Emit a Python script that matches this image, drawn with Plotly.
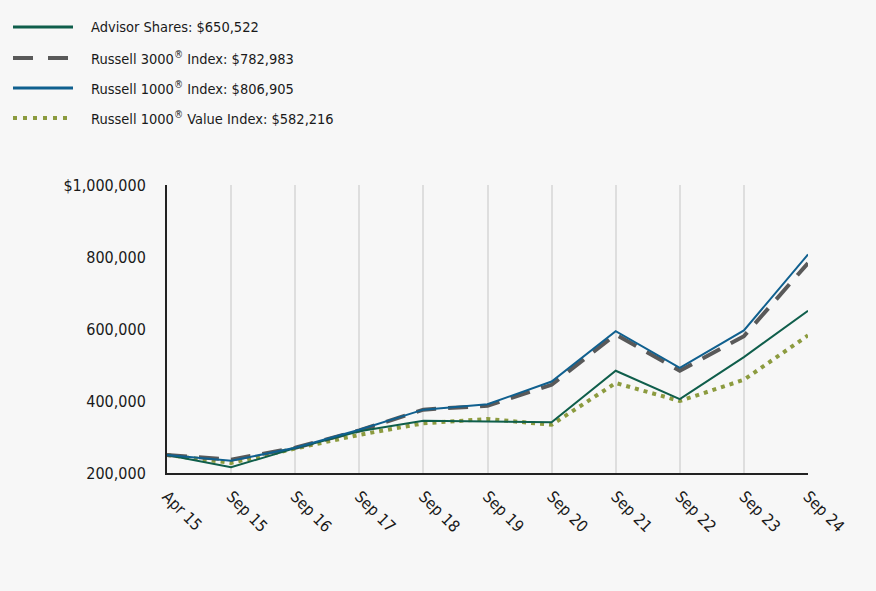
import plotly.graph_objects as go

categories = ["Apr 15", "Sep 15", "Sep 16", "Sep 17", "Sep 18", "Sep 19",
              "Sep 20", "Sep 21", "Sep 22", "Sep 23", "Sep 24"]

advisor = [250000, 216000, 269000, 316000, 345000, 342000, 341000, 484000, 405000, 522000, 650522]
r3000 = [250000, 237000, 270000, 318000, 376000, 387000, 445000, 585000, 484000, 580000, 782983]
r1000 = [250000, 234000, 270000, 320000, 376000, 391000, 454000, 594000, 492000, 596000, 806905]
r1000v = [250000, 228000, 268000, 306000, 338000, 350000, 334000, 450000, 400000, 459000, 582216]

names = ["Advisor Shares: $650,522",
         "Russell 3000<sup>®</sup> Index: $782,983",
         "Russell 1000<sup>®</sup> Index: $806,905",
         "Russell 1000<sup>®</sup> Value Index: $582,216"]

ytickvals = [200000, 400000, 600000, 800000, 1000000]
yticktext = ["200,000", "400,000", "600,000", "800,000", "$1,000,000"]

FONT = "DejaVu Sans Condensed"
colors = ["#0f5e4b", "#595959", "#10608f", "#8c9b3f"]
widths = [2, 4, 2, 4]
dashes = ["solid", "20px,12px", "solid", "4px,5px"]
legend_dashes = ["solid", "20px,15px", "solid", "4px,6px"]
series = [advisor, r3000, r1000, r1000v]
order = [3, 1, 0, 2]  # drawing order

fig = go.Figure()
for i in order:
    fig.add_trace(go.Scatter(x=categories, y=series[i], mode="lines",
                             line=dict(color=colors[i], width=widths[i], dash=dashes[i]),
                             name=names[i], showlegend=False))

W = 641.0
x0 = 167.0
def px(x):
    return (x - x0) / W

H = 288.0
y_bottom = 473.0
def py(y):
    return (y_bottom - y) / H

legend_y = [27, 58, 88, 118]
shapes = []
annotations = []
for i in range(4):
    shapes.append(dict(type="line", xref="paper", yref="paper",
                       x0=px(13), x1=px(73), y0=py(legend_y[i]), y1=py(legend_y[i]),
                       line=dict(color=colors[i], width=3 if widths[i] == 2 else 4,
                                 dash=legend_dashes[i])))
    annotations.append(dict(xref="paper", yref="paper", x=px(89), y=py(legend_y[i]),
                            text=names[i], showarrow=False, xanchor="left", yanchor="middle",
                            font=dict(family=FONT, size=14.5, color="#1a1a1a")))

fig.update_layout(
    width=876, height=591,
    margin=dict(l=167, r=68, t=185, b=118),
    paper_bgcolor="#f7f7f7", plot_bgcolor="#f7f7f7",
    font=dict(family=FONT, size=16, color="#1a1a1a"),
    shapes=shapes, annotations=annotations,
    showlegend=False,
)
fig.update_xaxes(type="category", range=[0, 10], showgrid=True, gridcolor="#dedede", gridwidth=2,
                 showline=True, linecolor="#222222", linewidth=2,
                 ticks="outside", ticklen=6, tickcolor="rgba(0,0,0,0)",
                 tickangle=45, tickfont=dict(family=FONT, size=16), zeroline=False)
fig.update_yaxes(range=[200000, 1000000], tickvals=ytickvals, ticktext=yticktext,
                 showgrid=False, showline=True, linecolor="#222222", linewidth=2,
                 ticks="outside", ticklen=16, tickcolor="rgba(0,0,0,0)",
                 tickfont=dict(family=FONT, size=16), zeroline=False)

fig.write_html("out.html")
